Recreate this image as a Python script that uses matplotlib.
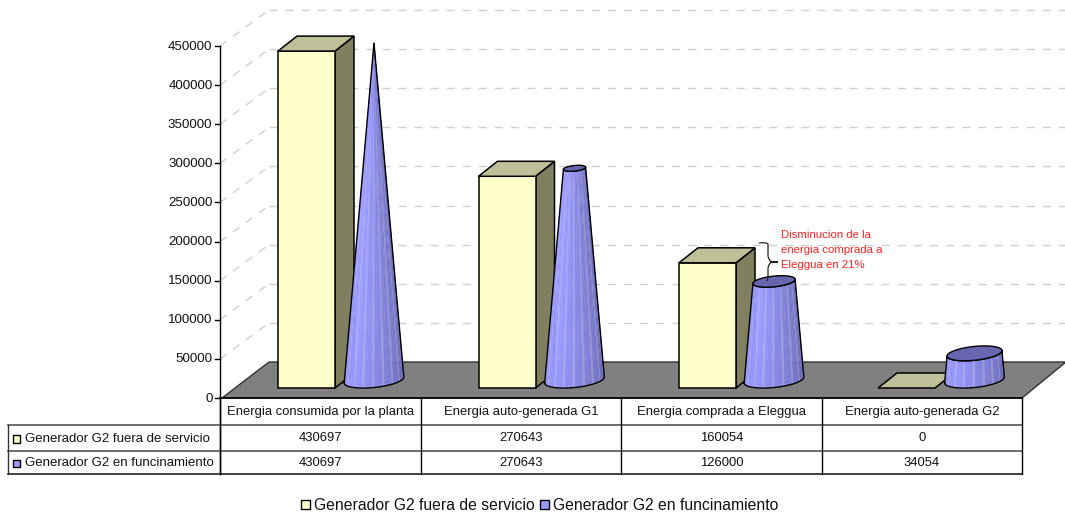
import numpy as np
import matplotlib
matplotlib.use('Agg')
import matplotlib.pyplot as plt
from matplotlib.patches import Polygon, Rectangle, PathPatch
from matplotlib.path import Path

plt.rcParams['font.family'] = ['Liberation Sans', 'DejaVu Sans']

# Data
categories = ['Energia consumida por la planta', 'Energia auto-generada G1',
              'Energia comprada a Eleggua', 'Energia auto-generada G2']
series_names = ['Generador G2 fuera de servicio', 'Generador G2 en funcinamiento']
fuera_servicio = [430697, 270643, 160054, 0]
en_funcionamiento = [430697, 270643, 126000, 34054]
y_ticks = [0, 50000, 100000, 150000, 200000, 250000, 300000, 350000, 400000, 450000]
note_lines = ['Disminucion de la', 'energia comprada a', 'Eleggua en 21%']

# Colours
YELLOW = '#FFFFCC'
YELLOW_TOP = '#BFBF99'
YELLOW_SIDE = '#808060'
BLUE = np.array([0x99, 0x99, 0xFF]) / 255
BLUE_DARK = np.array([0x66, 0x66, 0xB0]) / 255
GRID = '#D0D0D0'
TEXT = '#111111'

# Layout, all in pixels of the 1065x512 figure
AXIS_X = 220
AXIS_Y0 = 398
PX_PER_UNIT = 352 / 450000
WALL_DX, WALL_DY = 49, -36
BAR_BASE = 388
BAR_WIDTH = 57
BAR_DX, BAR_DY = 19, -15
BAR_LEFT = [278, 478.5, 679, 878]
CONE_X = [374, 574.5, 774, 974.5]
CONE_BASE = 380
CONE_R = 30
ROW_Y = [398, 425, 451, 474]
COL_X = [220, 421, 621, 822, 1022]
TABLE_LEFT = 8


def val_h(v):
    return v * PX_PER_UNIT


def ellipse_pts(cx, cy, r, a):
    # Tilted ellipse used for the cone rings
    tilt = np.radians(-6)
    ex = r * np.cos(a)
    ey = r * 0.25 * np.sin(a)
    return cx + ex * np.cos(tilt) - ey * np.sin(tilt), cy + ex * np.sin(tilt) + ey * np.cos(tilt)


def draw_bar(ax, left, v):
    top = BAR_BASE - val_h(v)
    right = left + BAR_WIDTH
    if v > 0:
        ax.add_patch(Polygon([(right, BAR_BASE), (right + BAR_DX, BAR_BASE + BAR_DY),
                              (right + BAR_DX, top + BAR_DY), (right, top)],
                             fc=YELLOW_SIDE, ec='black', lw=1.1, zorder=3))
        ax.add_patch(Rectangle((left, top), BAR_WIDTH, BAR_BASE - top,
                               fc=YELLOW, ec='black', lw=1.1, zorder=3))
    ax.add_patch(Polygon([(left, top), (left + BAR_DX, top + BAR_DY),
                          (right + BAR_DX, top + BAR_DY), (right, top)],
                         fc=YELLOW_TOP, ec='black', lw=1.1, zorder=3))


def draw_cone(ax, cx, v, vmax):
    r_top = CONE_R * (1 - v / vmax)
    y_top = CONE_BASE - val_h(v)
    # Side of the cone as narrow shaded facets
    angles = np.linspace(np.pi, 0, 37)
    for i in range(len(angles) - 1):
        a0, a1 = angles[i], angles[i + 1]
        x0, y0 = ellipse_pts(cx, CONE_BASE, CONE_R, a0)
        x1, y1 = ellipse_pts(cx, CONE_BASE, CONE_R, a1)
        x2, y2 = ellipse_pts(cx, y_top, r_top, a1)
        x3, y3 = ellipse_pts(cx, y_top, r_top, a0)
        t = i / (len(angles) - 2)
        shade = min(1, max(0, (t - 0.3) / 0.7))
        col = BLUE * (1 - shade) + BLUE_DARK * shade
        if i % 4 == 1:
            col = col + (1 - col) * 0.18
        ax.add_patch(Polygon([(x0, y0), (x1, y1), (x2, y2), (x3, y3)],
                             fc=col, ec=col, lw=0.3, zorder=4))
    # Outline
    a = np.linspace(np.pi, 0, 60)
    bx, by = ellipse_pts(cx, CONE_BASE, CONE_R, a)
    tx, ty = ellipse_pts(cx, y_top, r_top, a[::-1])
    ax.plot(np.r_[bx, tx, bx[0]], np.r_[by, ty, by[0]], color='black', lw=1.0, zorder=5)
    # Top ring
    if r_top > 0.5:
        ring = np.linspace(0, 2 * np.pi, 80)
        rx, ry = ellipse_pts(cx, y_top, r_top, ring)
        ax.fill(rx, ry, fc='#6666B0', ec='black', lw=1.0, zorder=5)


fig = plt.figure(figsize=(10.65, 5.12), dpi=100)
ax = fig.add_axes([0, 0, 1, 1])
ax.set_xlim(0, 1065)
ax.set_ylim(512, 0)
ax.axis('off')

# Wall grid lines
for t in y_ticks[1:]:
    y = AXIS_Y0 - val_h(t)
    ax.plot([AXIS_X, AXIS_X + WALL_DX], [y, y + WALL_DY], color=GRID, lw=1,
            dashes=(5.8, 5.8), zorder=1)
    ax.plot([AXIS_X + WALL_DX, 1065], [y + WALL_DY, y + WALL_DY], color=GRID, lw=1,
            dashes=(5.8, 5.8), zorder=1)

# Floor
ax.add_patch(Polygon([(AXIS_X + 2, AXIS_Y0), (AXIS_X + WALL_DX, AXIS_Y0 + WALL_DY),
                      (1066, AXIS_Y0 + WALL_DY), (COL_X[-1], AXIS_Y0)],
                     fc='#808080', ec='#333333', lw=1, zorder=2))

# Bars and cones, one category at a time
for i in range(len(categories)):
    draw_bar(ax, BAR_LEFT[i], fuera_servicio[i])
    draw_cone(ax, CONE_X[i], en_funcionamiento[i], max(en_funcionamiento))

# Value axis
ax.plot([AXIS_X, AXIS_X], [AXIS_Y0 - val_h(y_ticks[-1]), ROW_Y[-1]], color='black', lw=1, zorder=6)
for t in y_ticks:
    y = AXIS_Y0 - val_h(t)
    ax.plot([AXIS_X - 5, AXIS_X], [y, y], color='black', lw=1, zorder=6)
    ax.text(AXIS_X - 7.5, y + 0.5, str(t), ha='right', va='center', fontsize=9.6, color=TEXT)

# Data table
ax.plot([AXIS_X, COL_X[-1]], [ROW_Y[0], ROW_Y[0]], color='black', lw=1.2, zorder=6)
for y, col in zip(ROW_Y[1:], ['#555555', '#555555', '#222222']):
    ax.plot([TABLE_LEFT, COL_X[-1]], [y, y], color=col, lw=1.2, zorder=6)
ax.plot([TABLE_LEFT, TABLE_LEFT], [ROW_Y[1], ROW_Y[3]], color='#333333', lw=1, zorder=6)
for x in COL_X:
    ax.plot([x, x], [ROW_Y[0], ROW_Y[3]], color='black', lw=1, zorder=6)

for i, name in enumerate(categories):
    cx = (COL_X[i] + COL_X[i + 1]) / 2
    ax.text(cx, (ROW_Y[0] + ROW_Y[1]) / 2, name, ha='center', va='center',
            fontsize=9.35, color=TEXT)
    ax.text(cx, (ROW_Y[1] + ROW_Y[2]) / 2, str(fuera_servicio[i]), ha='center',
            va='center', fontsize=9.35, color=TEXT)
    ax.text(cx, (ROW_Y[2] + ROW_Y[3]) / 2 + 0.5, str(en_funcionamiento[i]), ha='center',
            va='center', fontsize=9.35, color=TEXT)

swatches = [YELLOW, '#9999FF']
for r, (name, col) in enumerate(zip(series_names, swatches)):
    ym = (ROW_Y[r + 1] + ROW_Y[r + 2]) / 2
    ax.add_patch(Rectangle((12.5, ym - 3), 7.5, 7.5, fc=col, ec='black', lw=1, zorder=6))
    ax.text(25, ym + 1, name, ha='left', va='center', fontsize=9.5, color=TEXT)

# Legend under the table
legend_x = [301, 540]
for x, name, col in zip(legend_x, series_names, swatches):
    ax.add_patch(Rectangle((x, 500), 9, 9, fc=col, ec='black', lw=1, zorder=6))
    ax.text(x + 13, 505, name, ha='left', va='center', fontsize=11.3, color=TEXT)

# Note on the reduction of purchased energy
for line, y in zip(note_lines, [235, 250, 265]):
    ax.text(781, y, line, ha='left', va='center', fontsize=8.2, color='#FF2020', zorder=7)

brace = Path([(759, 243), (766, 242), (768, 244), (768, 250), (768, 256), (769, 261), (772, 262),
              (769, 263), (768, 268), (768, 274), (768, 276), (768, 279), (767, 281)],
             [Path.MOVETO] + [Path.CURVE3] * 12)
ax.add_patch(PathPatch(brace, fc='none', ec='#222222', lw=0.9, zorder=7))
ax.plot([771, 777], [262, 262], color='#222222', lw=1.5, zorder=7)

fig.savefig('out.png', dpi=100)
